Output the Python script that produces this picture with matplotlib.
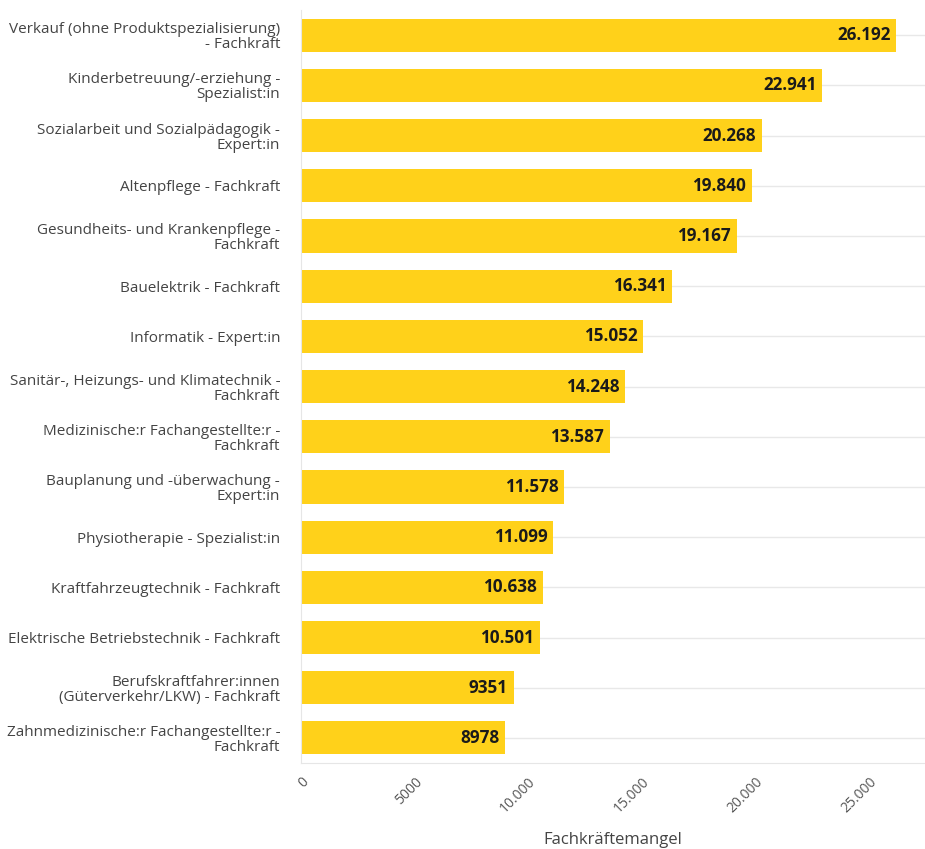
import numpy as np
import matplotlib.pyplot as plt
from matplotlib.ticker import FuncFormatter

berufe = [
    "Verkauf (ohne Produktspezialisierung)\n- Fachkraft",
    "Kinderbetreuung/-erziehung -\nSpezialist:in",
    "Sozialarbeit und Sozialpädagogik -\nExpert:in",
    "Altenpflege - Fachkraft",
    "Gesundheits- und Krankenpflege -\nFachkraft",
    "Bauelektrik - Fachkraft",
    "Informatik - Expert:in",
    "Sanitär-, Heizungs- und Klimatechnik -\nFachkraft",
    "Medizinische:r Fachangestellte:r -\nFachkraft",
    "Bauplanung und -überwachung -\nExpert:in",
    "Physiotherapie - Spezialist:in",
    "Kraftfahrzeugtechnik - Fachkraft",
    "Elektrische Betriebstechnik - Fachkraft",
    "Berufskraftfahrer:innen\n(Güterverkehr/LKW) - Fachkraft",
    "Zahnmedizinische:r Fachangestellte:r -\nFachkraft",
]
mangel = [26192, 22941, 20268, 19840, 19167, 16341, 15052, 14248,
          13587, 11578, 11099, 10638, 10501, 9351, 8978]
x_ticks = [0, 5000, 10000, 15000, 20000, 25000]


def de_format(v):
    # 4-stellige Zahlen ohne Trennzeichen, sonst Punkt als Tausendertrenner
    v = int(round(v))
    if abs(v) < 10000:
        return str(v)
    return f"{v:,}".replace(",", ".")


plt.rcParams['font.family'] = ['Open Sans', 'DejaVu Sans']

fig = plt.figure(figsize=(9.25, 8.49), dpi=100)
ax = fig.add_axes([0.3254, 0.1013, 0.6746, 0.8867])

y = np.arange(len(berufe))
ax.barh(y, mangel, height=0.66, color="#FFD11A", zorder=2)

for yi, v in zip(y, mangel):
    ax.text(v - 250, yi, de_format(v), ha="right", va="center",
            fontsize=12.3, fontweight="bold", color="#1a1a1a", zorder=3)

ax.set_yticks(y)
ax.set_yticklabels(berufe, fontsize=11, color="#444444", linespacing=1.0)
ax.set_ylim(len(berufe) - 0.5, -0.5)
ax.set_xlim(0, 27450)
ax.set_xticks(x_ticks)
ax.xaxis.set_major_formatter(FuncFormatter(lambda v, p: de_format(v)))
for lab in ax.get_xticklabels():
    lab.set_rotation(45)
    lab.set_ha("right")
    lab.set_rotation_mode("anchor")
    lab.set_fontsize(10)
    lab.set_color("#555555")

ax.tick_params(axis="y", length=0, pad=15)
ax.tick_params(axis="x", length=0, pad=8)
ax.grid(axis="y", color="#e8e8e8", linewidth=1, zorder=0)
ax.grid(axis="x", visible=False)
for s in ["top", "right"]:
    ax.spines[s].set_visible(False)
ax.spines["left"].set_color("#e6e6e6")
ax.spines["bottom"].set_color("#e6e6e6")

ax.set_xlabel("Fachkräftemangel", fontsize=12, color="#444444", va="center")
ax.xaxis.set_label_coords(0.5, -0.102)

fig.savefig("out.png", dpi=100)
